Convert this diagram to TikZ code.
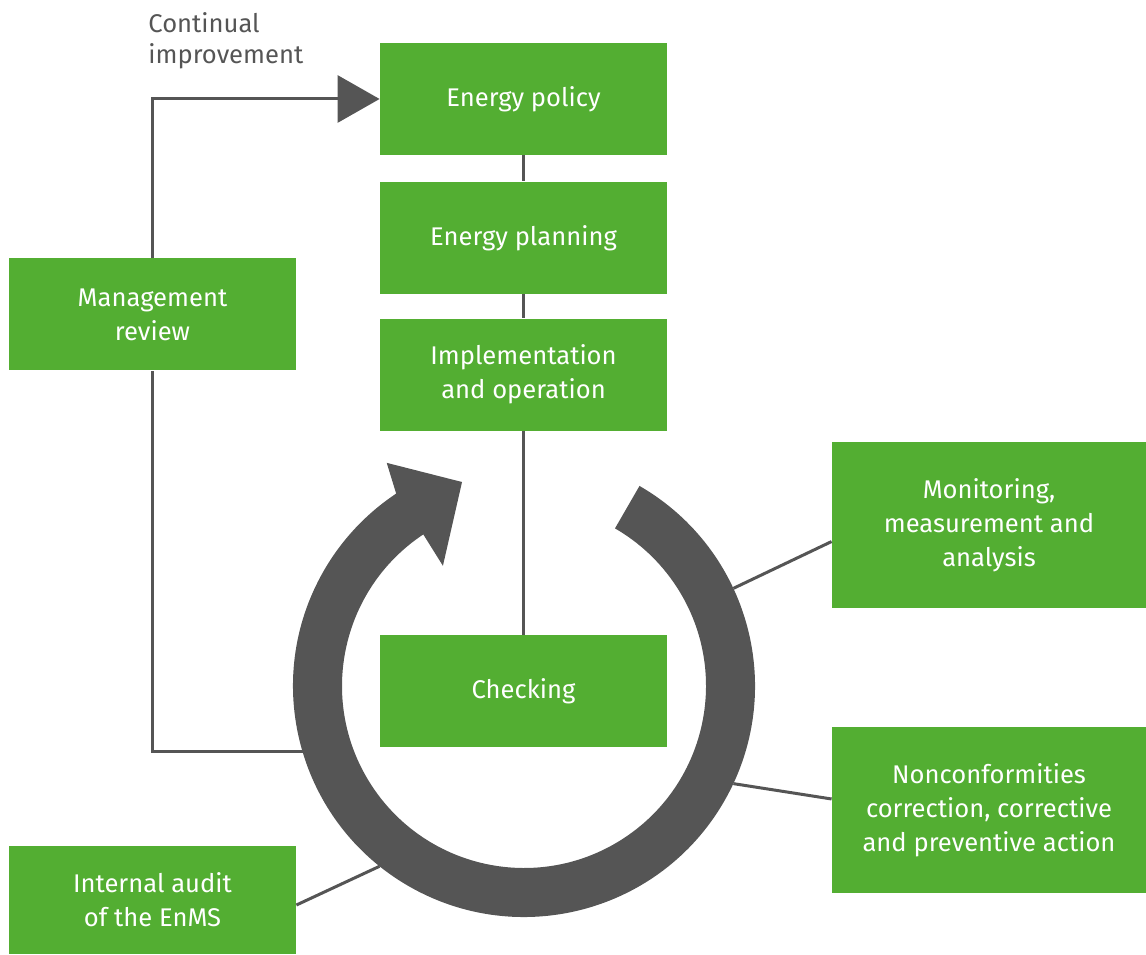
\documentclass[tikz,border=0pt]{standalone}
\usepackage{fontspec}
\setmainfont{Fira Sans}
\usetikzlibrary{positioning,arrows.meta,calc}
\definecolor{emGreen}{HTML}{53AE32}
\definecolor{emGray}{HTML}{555555}
\definecolor{emWhite}{HTML}{FFFFFF}
\tikzset{
  em-box/.style={
    fill=emGreen, text=emWhite, align=center, inner sep=4pt,
    minimum width=143.5pt, minimum height=56pt,
    font=\fontsize{12.8}{17}\selectfont
  },
  em-wide/.style={em-box, minimum width=157pt, minimum height=83pt},
  em-link/.style={draw=emGray, line width=1.5pt},
  em-flow/.style={em-link, -{Triangle[length=21pt,width=23.5pt]}},
  em-ring/.style={fill=emGray},
  em-label/.style={font=\fontsize{12.8}{15.5}\selectfont, text=emGray,
    align=left, inner sep=0pt}
}

\begin{document}
\begin{tikzpicture}[x=1pt, y=1pt]
\useasboundingbox (0,0) rectangle (573,477);

\node[em-box] (policy) at (261.75,427.5) {Energy policy};
\node[em-box, below=13pt of policy] (planning) {Energy planning};
\node[em-box, below=12pt of planning] (impl) {Implementation\\and operation};
\node[em-box, below=102pt of impl] (check) {Checking};

\node[em-box] (review) at (76.25,319.75) {Management\\review};
\node[em-box, minimum height=54pt] (audit) at (76.25,27) {Internal audit\\of the EnMS};
\node[em-wide] (monitor) at (494.5,214.5) {Monitoring,\\measurement and\\analysis};
\node[em-wide] (noncon) at (494.5,72) {Nonconformities\\correction, corrective\\and preventive action};

\node[em-label, anchor=north west] (cont) at (74,471) {Continual\\improvement};

% cycle ring with arrow head
\coordinate (rc) at (262,134);
\fill[em-ring] ($(rc)+(60:115.5)$) arc[start angle=60, end angle=-236.4, radius=115.5]
  -- ($(rc)+(121.6:131)$) -- ($(rc)+(106.9:106.6)$) -- ($(rc)+(124:72.5)$)
  -- ($(rc)+(123.6:91)$) arc[start angle=-236.4, end angle=60, radius=91] -- cycle;

\coordinate (r1) at ($(rc)+(25:115.5)$);
\coordinate (r2) at ($(rc)+(-25:115.5)$);
\coordinate (r3) at ($(rc)+(-128.7:115.5)$);
\coordinate (r4) at ($(rc)+(196.6:115.5)$);

\draw[em-link] (policy) -- (planning);
\draw[em-link] (planning) -- (impl);
\draw[em-link] (impl) -- (check);
\draw[em-link] (r1) -- (monitor.186.5);
\draw[em-link] (r2) -- (noncon.176.4);
\draw[em-link] (r3) -- (audit.-2);
\draw[em-link] (r4) -| (review);
\draw[em-flow] (review) |- (policy);
\end{tikzpicture}
\end{document}
